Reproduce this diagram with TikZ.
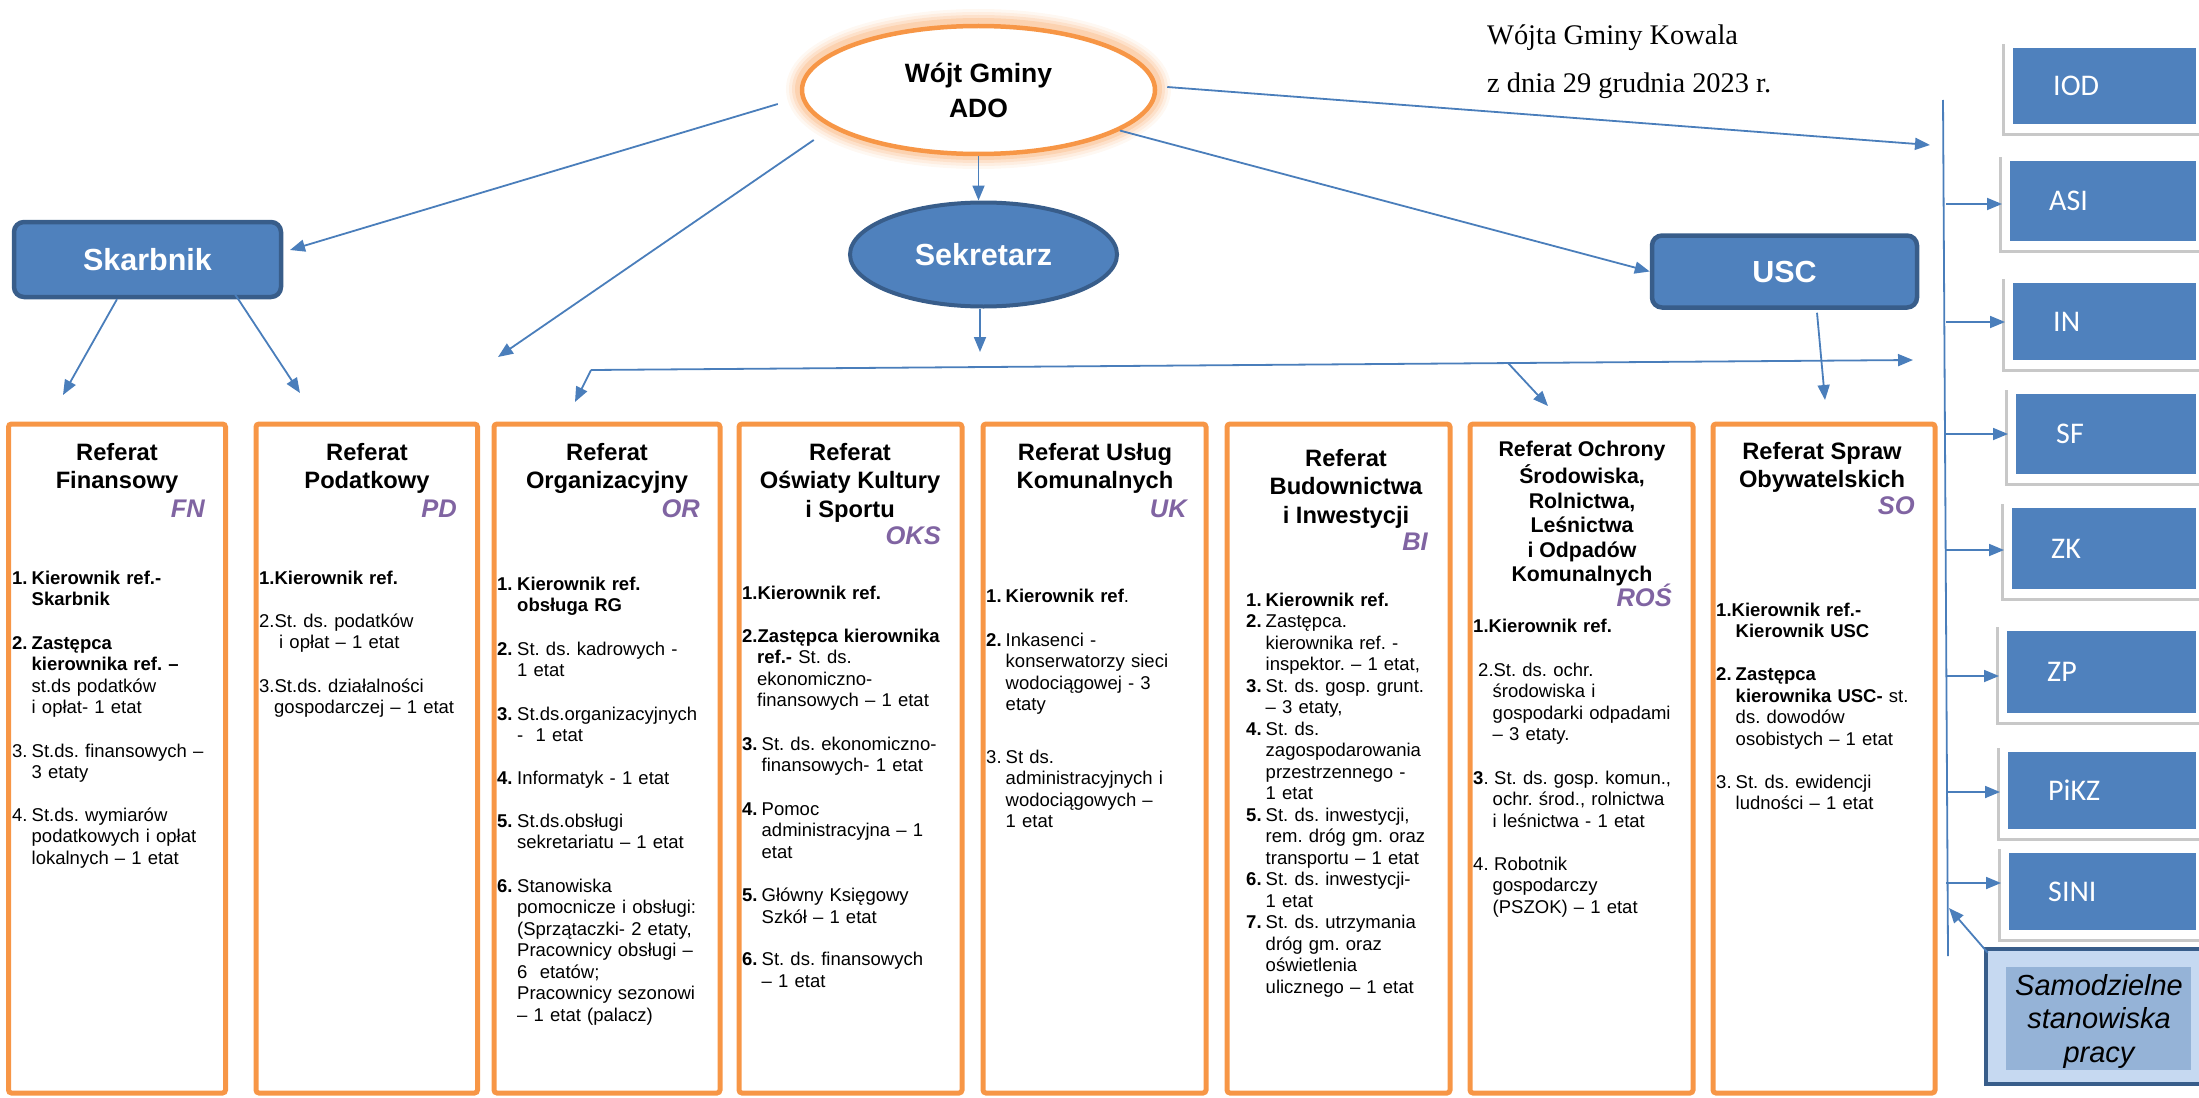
\documentclass[tikz,border=0pt]{standalone}
\usepackage{fontspec}
\setmainfont{Liberation Sans}
\newfontfamily\kalibri{Carlito}
\newfontfamily\szeryf{Liberation Serif}
\usetikzlibrary{arrows.meta,shapes.geometric}
\definecolor{umblue}{RGB}{79,129,189}
\definecolor{umdark}{RGB}{56,93,138}
\definecolor{umline}{RGB}{74,126,187}
\definecolor{umorange}{RGB}{247,150,70}
\definecolor{umpurple}{RGB}{128,100,162}
\definecolor{umlight}{RGB}{198,217,241}
\definecolor{ummid}{RGB}{149,179,215}
\definecolor{umshadow}{RGB}{200,200,200}
\newcommand{\lpnum}[2][19.5pt]{\makebox[#1][l]{#2}}
\newcommand{\wcin}[1][19.5pt]{\hspace*{#1}}
\newcommand{\rozpstr}[1]{\makebox[181pt][s]{#1}}
\frenchspacing
\tikzset{
  arr/.style={umline, line width=1.8pt, -{Triangle[length=15pt,width=12pt]}},
  refbox/.style={draw=umorange, line width=5pt, rounded corners=3pt, minimum height=669pt, inner sep=0pt},
  tytul/.style={anchor=north, align=center, inner sep=0pt, font=\bfseries\fontsize{23.7}{28.5}\selectfont},
  kod/.style={anchor=base east, inner sep=0pt, text=umpurple, font=\bfseries\itshape\fontsize{25.5}{30}\selectfont},
  lista/.style={anchor=north west, inner sep=0pt, text width=230pt, align=left, font=\fontsize{18.5}{21.5}\selectfont\frenchspacing},
  niebieski/.style={fill=umblue, draw=umdark, line width=4.5pt, text=white, font=\bfseries\fontsize{30.5}{36}\selectfont},
  boczny/.style={anchor=west, inner sep=0pt, text=white, font=\kalibri\fontsize{30}{36}\selectfont},
}
\begin{document}
\begin{tikzpicture}[x=1pt,y=-1pt]
  \useasboundingbox (0,0) rectangle (2199,1097);
  % Glow round the head of the office
  \foreach \w/\o in {32pt/0.07,26pt/0.1,20pt/0.14,14pt/0.2} {
    \draw[umorange, line width=\w, opacity=\o] (978.5,89) ellipse [x radius=176.5, y radius=64];
  }
  \node[ellipse, draw=umorange, line width=4.5pt, fill=white, minimum width=353pt, minimum height=128pt, align=center, inner sep=0pt, font=\bfseries\fontsize{26.5}{35}\selectfont] (wojt) at (978.5,90) {Wójt Gminy\\ADO};
  \node[ellipse, niebieski, line width=4pt, minimum width=267pt, minimum height=104pt] (sekr) at (983.5,254.5) {Sekretarz};
  \node[niebieski, rounded corners=10pt, minimum width=267pt, minimum height=75pt] (skarb) at (147.5,259.5) {Skarbnik};
  \node[niebieski, rounded corners=10pt, minimum width=265pt, minimum height=72pt] (usc) at (1784.5,271.5) {USC};
  % Header text
  \node[anchor=base west, inner sep=0pt, font=\szeryf\fontsize{28.4}{34}\selectfont] (zarz1) at (1487,45) {Wójta Gminy Kowala};
  \node[anchor=base west, inner sep=0pt, font=\szeryf\fontsize{28.4}{34}\selectfont] (zarz2) at (1487,93) {z dnia 29 grudnia 2023 r.};
  % Departments
  \foreach \nm/\xs/\w in {fn/117/217pt, pd/366.75/221.5pt, org/607/226pt, oks/850.5/223pt, uk/1094.5/223pt, bi/1338.5/223pt, ros/1581.5/223pt, so/1824/222pt}
    \node[refbox, minimum width=\w] (\nm) at (\xs,758.5) {};
  \node[tytul] (fntyt) at (117,440) {\strut Referat\\Finansowy};
  \node[kod] (fnkod) at (205,517) {FN};
  \node[tytul] (pdtyt) at (367,440) {\strut Referat\\Podatkowy};
  \node[kod] (pdkod) at (457,517) {PD};
  \node[tytul] (orgtyt) at (607,440) {\strut Referat\\Organizacyjny};
  \node[kod] (orgkod) at (700,517) {OR};
  \node[tytul] (okstyt) at (850,440) {\strut Referat\\Oświaty Kultury\\i Sportu};
  \node[kod] (okskod) at (941,544) {OKS};
  \node[tytul] (uktyt) at (1095,440) {\strut Referat Usług\\Komunalnych};
  \node[kod] (ukkod) at (1187,517) {UK};
  \node[tytul] (bityt) at (1346,446) {\strut Referat\\Budownictwa\\i Inwestycji};
  \node[kod] (bikod) at (1428,550) {BI};
  \node[tytul, font=\bfseries\fontsize{21.3}{24.5}\selectfont] (rostyt) at (1582,439) {\strut Referat Ochrony\\Środowiska,\\Rolnictwa,\\Leśnictwa\\i Odpadów\\Komunalnych};
  \node[kod] (roskod) at (1672,606) {ROŚ};
  \node[tytul] (sotyt) at (1822,439) {\strut Referat Spraw\\Obywatelskich};
  \node[kod] (sokod) at (1915,514) {SO};
  % Posts in each department
  \node[lista] (fnlista) at (12,569) {\strut\lpnum{\textbf{1.}}\textbf{Kierownik ref.-}\\
    \wcin\textbf{Skarbnik}\\[22pt]
    \lpnum{\textbf{2.}}\textbf{Zastępca}\\
    \wcin\textbf{kierownika ref. –}\\
    \wcin st.ds podatków\\
    \wcin i opłat- 1 etat\\[22pt]
    \lpnum{3.}St.ds. finansowych –\\
    \wcin 3 etaty\\[21pt]
    \lpnum{4.}St.ds. wymiarów\\
    \wcin podatkowych i opłat\\
    \wcin lokalnych – 1 etat};
  \node[lista] (pdlista) at (259,569) {\strut\textbf{1.Kierownik ref.}\\[21.5pt]
    2.St. ds. podatków\\
    \wcin[20pt]i opłat – 1 etat\\[22pt]
    3.St.ds. działalności\\
    \wcin[15pt]gospodarczej – 1 etat};
  \node[lista] (orglista) at (497,575) {\strut\lpnum[20pt]{\textbf{1.}}\textbf{Kierownik ref.}\\
    \wcin[20pt]\textbf{obsługa RG}\\[22pt]
    \lpnum[20pt]{\textbf{2.}}\rozpstr{St. ds. kadrowych -}\\
    \wcin[20pt]1 etat\\[22pt]
    \lpnum[20pt]{\textbf{3.}}St.ds.organizacyjnych\\
    \wcin[20pt]-\ \ 1 etat\\[21pt]
    \lpnum[20pt]{\textbf{4.}}Informatyk - 1 etat\\[21.5pt]
    \lpnum[20pt]{\textbf{5.}}St.ds.obsługi\\
    \wcin[20pt]sekretariatu – 1 etat\\[22pt]
    \lpnum[20pt]{\textbf{6.}}Stanowiska\\
    \wcin[20pt]\rozpstr{pomocnicze i obsługi:}\\
    \wcin[20pt]\rozpstr{(Sprzątaczki- 2 etaty,}\\
    \wcin[20pt]\rozpstr{Pracownicy obsługi –}\\
    \wcin[20pt]6\ \ etatów;\\
    \wcin[20pt]\rozpstr{Pracownicy sezonowi}\\
    \wcin[20pt]– 1 etat (palacz)};
  \node[lista] (okslista) at (742,584) {\strut\textbf{1.Kierownik ref.}\\[21.5pt]
    \textbf{2.Zastępca kierownika}\\
    \wcin[15pt]\textbf{ref.-} St. ds.\\
    \wcin[15pt]ekonomiczno-\\
    \wcin[15pt]finansowych – 1 etat\\[22pt]
    \lpnum{\textbf{3.}}St. ds. ekonomiczno-\\
    \wcin finansowych- 1 etat\\[22pt]
    \lpnum{\textbf{4.}}Pomoc\\
    \wcin administracyjna – 1\\
    \wcin etat\\[22pt]
    \lpnum{\textbf{5.}}Główny Księgowy\\
    \wcin Szkół – 1 etat\\[21pt]
    \lpnum{\textbf{6.}}St. ds. finansowych\\
    \wcin – 1 etat};
  \node[lista] (uklista) at (986,587) {\strut\lpnum{\textbf{1.}}\textbf{Kierownik ref}.\\[22.5pt]
    \lpnum{\textbf{2.}}Inkasenci -\\
    \wcin konserwatorzy sieci\\
    \wcin wodociągowej - 3\\
    \wcin etaty\\[31pt]
    \lpnum{3.}St ds.\\
    \wcin administracyjnych i\\
    \wcin wodociągowych –\\
    \wcin 1 etat};
  \node[lista] (bilista) at (1246,591) {\strut\lpnum{\textbf{1.}}\textbf{Kierownik ref.}\\
    \lpnum{\textbf{2.}}Zastępca.\\
    \wcin kierownika ref. -\\
    \wcin inspektor. – 1 etat,\\
    \lpnum{\textbf{3.}}St. ds. gosp. grunt.\\
    \wcin – 3 etaty,\\
    \lpnum{\textbf{4.}}St. ds.\\
    \wcin zagospodarowania\\
    \wcin przestrzennego -\\
    \wcin 1 etat\\
    \lpnum{\textbf{5.}}St. ds. inwestycji,\\
    \wcin rem. dróg gm. oraz\\
    \wcin transportu – 1 etat\\
    \lpnum{\textbf{6.}}St. ds. inwestycji-\\
    \wcin 1 etat\\
    \lpnum{\textbf{7.}}St. ds. utrzymania\\
    \wcin dróg gm. oraz\\
    \wcin oświetlenia\\
    \wcin ulicznego – 1 etat};
  \node[lista] (roslista) at (1473,617) {\strut\textbf{1.Kierownik ref.}\\[22.5pt]
    \wcin[5pt]2.St. ds. ochr.\\
    \wcin środowiska i\\
    \wcin gospodarki odpadami\\
    \wcin – 3 etaty.\\[22pt]
    \lpnum[21pt]{\textbf{3}.}St. ds. gosp. komun.,\\
    \wcin ochr. środ., rolnictwa\\
    \wcin i leśnictwa - 1 etat\\[21.5pt]
    \lpnum[21pt]{4.}Robotnik\\
    \wcin gospodarczy\\
    \wcin (PSZOK) – 1 etat};
  \node[lista] (solista) at (1716,601) {\strut\textbf{1.Kierownik ref.-}\\
    \wcin\textbf{Kierownik USC}\\[21.5pt]
    \lpnum{\textbf{2.}}\textbf{Zastępca}\\
    \wcin\textbf{kierownika USC-} st.\\
    \wcin ds. dowodów\\
    \wcin osobistych – 1 etat\\[21.5pt]
    \lpnum{3.}St. ds. ewidencji\\
    \wcin ludności – 1 etat};
  % Independent posts on the right
  \foreach \nm/\xl/\yt/\yb/\tx in {IOD/2013/48/124/2053, ASI/2010/161/241/2049, IN/2013/283/360/2053, SF/2016/394/474/2056, ZK/2012/508/589/2051, ZP/2007/631/713/2047, PiKZ/2008/752/829/2048, SINI/2009/853/930/2048} {
    \fill[umshadow] (\xl-11,\yt-4) rectangle (2210,\yb+12);
    \fill[white] (\xl-8,\yt-7) rectangle (2210,\yb+9);
    \fill[umblue] (\xl,\yt) rectangle (2196,\yb);
    \coordinate (\nm-w) at (\xl-8,{(\yt+\yb)/2});
    \node[boczny] (\nm) at (\tx,{(\yt+\yb)/2}) {\nm};
  }
  \coordinate (vtop) at (1943,100);
  \coordinate (vbot) at (1948,956);
  \draw[umline, line width=1.8pt] (vtop) -- (vbot);
  \foreach \nm/\ay in {ASI/204, IN/322, SF/434, ZK/550, ZP/676, PiKZ/792, SINI/883} {
    \coordinate (\nm-a) at (1946,\ay);
    \draw[arr] (\nm-a) -- (\nm-a -| \nm-w);
  }
  \node[draw=umdark, fill=umlight, line width=4.5pt, minimum width=219pt, minimum height=135pt, inner sep=0pt] (samo) at (2095.5,1016.5) {};
  \fill[ummid] (2006,967) rectangle (2191,1070);
  \node[align=center, inner sep=0pt, font=\itshape\fontsize{29}{33.5}\selectfont] (samotxt) at (2099,1021) {Samodzielne\\stanowiska\\pracy};
  \coordinate (samogrot) at (1949,908);
  \draw[arr] ([xshift=4pt,yshift=-6pt]samo.north west) -- (samogrot);
  % Connectors
  \coordinate (grotSk) at (290,250);
  \draw[arr] ([xshift=-22pt,yshift=-14pt]wojt.west) -- (grotSk);
  \coordinate (grotPD) at (498,357);
  \draw[arr] ([xshift=14pt,yshift=-50pt]wojt.west) -- (grotPD);
  \draw[arr] (wojt.south) -- (wojt.south |- sekr.north);
  \coordinate (grotSekr) at (980,352);
  \draw[arr] (sekr.south -| grotSekr) -- (grotSekr);
  \coordinate (grotFN) at (63,395);
  \draw[arr] ([xshift=-30.5pt]skarb.south) -- (grotFN);
  \coordinate (grotPD2) at (300,393);
  \draw[arr] ([xshift=87.5pt,yshift=5pt]skarb.south) -- (grotPD2);
  \draw[arr] (wojt.344) -- (usc.west);
  \coordinate (grotIOD) at (1930,145);
  \draw[arr] ([xshift=10pt,yshift=3pt]wojt.east) -- (grotIOD);
  \coordinate (grotSO) at (1825,400);
  \draw[arr] ([xshift=32.5pt,yshift=-3pt]usc.south) -- (grotSO);
  \coordinate (hL) at (591,370);
  \coordinate (hB) at (1508,363);
  \coordinate (grotOR) at (575,402);
  \coordinate (grotH) at (1913,360);
  \coordinate (grotROS) at (1548,406);
  \draw[arr] (hL) -- (grotOR);
  \draw[arr] (hL) -- (grotH);
  \draw[arr] (hB) -- (grotROS);
\end{tikzpicture}
\end{document}
